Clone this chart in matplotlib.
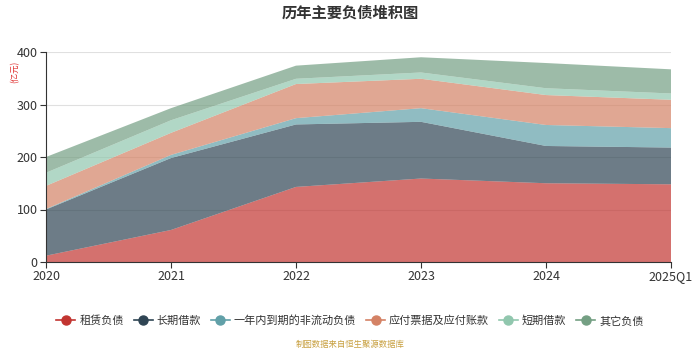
import numpy as np
import matplotlib.pyplot as plt
from matplotlib.lines import Line2D

plt.rcParams['font.family'] = ['Noto Sans CJK SC', 'DejaVu Sans']

# data (亿元)
periods = ['2020', '2021', '2022', '2023', '2024', '2025Q1']
names = ['租赁负债', '长期借款', '一年内到期的非流动负债', '应付票据及应付账款', '短期借款', '其它负债']
lease = [12, 61, 143, 159, 150, 148]
long_loan = [88, 137, 119, 108, 71, 70]
current_noncur = [1, 6, 12, 26, 40, 37]
payables = [44, 42, 65, 56, 57, 54]
short_loan = [25, 24, 10, 12, 13, 12]
other = [30, 23, 25, 29, 48, 46]
colors = ['#c23531', '#2f4554', '#61a0a8', '#d48265', '#91c7ae', '#749f83']

series = [lease, long_loan, current_noncur, payables, short_loan, other]

fig = plt.figure(figsize=(7, 3.5), dpi=100)
ax = fig.add_axes([46 / 700, 88 / 350, 625 / 700, 210 / 350])

x = np.arange(len(periods))
ax.stackplot(x, *series, colors=colors, alpha=0.7, linewidth=0, zorder=2)

ax.set_xlim(0, len(periods) - 1)
ax.set_ylim(0, 400)
ax.set_yticks([0, 100, 200, 300, 400])
ax.set_xticks(x)
ax.set_xticklabels(periods)
ax.grid(axis='y', color='#cccccc', linewidth=0.8, zorder=3, alpha=0.6)
ax.tick_params(axis='both', labelsize=9, colors='#333333', length=4, width=0.8, pad=2)
for s in ['top', 'right']:
    ax.spines[s].set_visible(False)
ax.spines['left'].set_color('#333333')
ax.spines['bottom'].set_color('#333333')

fig.text(0.5, 0.965, '历年主要负债堆积图', ha='center', va='center',
         fontsize=11, fontweight='bold', color='#333333')
fig.text(0.022, 0.795, '(亿元)', rotation=90, ha='center', va='center',
         fontsize=6, color='#e03030')

# legend: line + circle markers
handles = [Line2D([0], [0], color=c, marker='o', markersize=6.5, linewidth=1.2)
           for c in colors]
fig.legend(handles, names, loc='center', bbox_to_anchor=(0.5, 0.083),
           ncol=6, frameon=False, fontsize=8, handlelength=1.7,
           handletextpad=0.35, columnspacing=0.9, labelcolor='#333333')

fig.text(0.5, 0.017, '制图数据来自恒生聚源数据库', ha='center', va='center',
         fontsize=6, color='#c8a040')

fig.savefig('out.png', dpi=100)
